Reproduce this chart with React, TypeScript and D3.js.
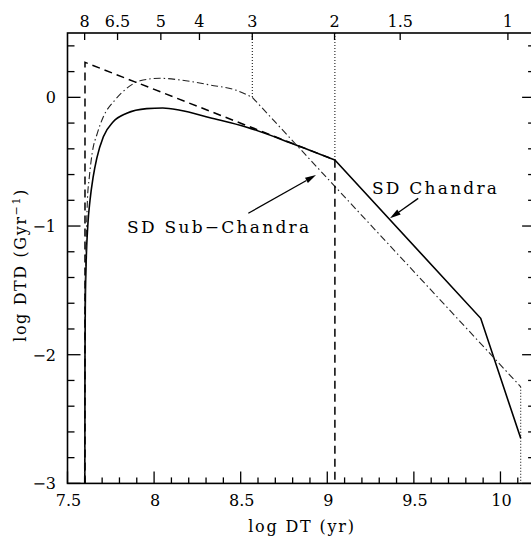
import React from "react";
import * as d3 from "d3";

// ---- data ----
const chandraCurve: [number, number][] = [
  [7.6, -3], [7.6005, -2.4], [7.601, -2.0], [7.603, -1.6], [7.607, -1.32], [7.617, -1.0],
  [7.63, -0.8], [7.648, -0.62], [7.669, -0.474], [7.707, -0.306], [7.764, -0.19],
  [7.842, -0.124], [7.957, -0.088], [8.05, -0.083], [8.15, -0.1], [8.323, -0.158],
  [8.535, -0.232], [8.785, -0.352], [9.044, -0.487],
];
const chandraTail: [number, number][] = [
  [9.044, -0.487], [9.886, -1.717], [10.117, -2.65],
];
const otherCurve: [number, number][] = [
  [7.598, -3], [7.599, -2.4], [7.6, -2.0], [7.602, -1.5], [7.607, -1.2], [7.615, -0.8],
  [7.626, -0.62], [7.643, -0.43], [7.672, -0.28], [7.707, -0.151], [7.774, -0.021],
  [7.842, 0.07], [7.919, 0.129], [8.034, 0.148], [8.15, 0.135], [8.323, 0.096],
  [8.47, 0.057], [8.567, 0.0],
];
const otherTail: [number, number][] = [
  [8.567, 0.0], [10.117, -2.249],
];
const subChandra: [number, number][] = [
  [7.601, -3], [7.601, 0.272], [9.044, -0.487], [9.044, -3],
];
const dottedGuides: [number, number, number][] = [
  // x, yTop, yBottom
  [8.567, 0.5, 0.0],
  [9.044, 0.5, -0.487],
  [10.117, -2.249, -3],
];
const massLabels = ["8", "6.5", "5", "4", "3", "2", "1.5", "1"];
const massLogT = [7.599, 7.789, 8.039, 8.262, 8.567, 9.042, 9.421, 10.043];
const xMajorTicks = [7.5, 8, 8.5, 9, 9.5, 10];
const xTickLabels = ["7.5", "8", "8.5", "9", "9.5", "10"];
const yMajorTicks = [-3, -2, -1, 0];
const yTickLabels = ["\u22123", "\u22122", "\u22121", "0"];

const W = 531;
const H = 541;
const FONT = "DejaVu Serif";

export default function App() {
  const x = d3.scaleLinear().domain([7.5, 10.2]).range([67.5, 535.1]);
  const y = d3.scaleLinear().domain([-3, 0.5]).range([483.4, 33]);

  const curve = d3
    .line<[number, number]>()
    .x((d) => x(d[0]))
    .y((d) => y(d[1]))
    .curve(d3.curveMonotoneX);
  const lin = d3
    .line<[number, number]>()
    .x((d) => x(d[0]))
    .y((d) => y(d[1]));

  const xMinor = d3.range(76, 103).map((v) => v / 10).filter((v) => Math.abs(v * 2 - Math.round(v * 2)) > 1e-6);
  const yMinor = d3.range(-14, 3).map((v) => v / 5).filter((v) => Math.abs(v - Math.round(v)) > 1e-6);

  const [x0, x1] = x.range();
  const [yb, yt] = y.range();

  const arrow = (sx: number, sy: number, tx: number, ty: number, key: string) => {
    const ang = Math.atan2(ty - sy, tx - sx);
    const L = 11, hw = 3;
    const bx = tx - L * Math.cos(ang), by = ty - L * Math.sin(ang);
    const px = -Math.sin(ang) * hw, py = Math.cos(ang) * hw;
    return (
      <g key={key}>
        <line x1={sx} y1={sy} x2={bx} y2={by} stroke="#000" strokeWidth={1.3} />
        <polygon points={`${tx},${ty} ${bx + px},${by + py} ${bx - px},${by - py}`} fill="#000" />
      </g>
    );
  };

  return (
    <svg width={W} height={H} style={{ position: "absolute", left: 0, top: 0, background: "#fff" }}
      fontFamily={FONT}>
      {/* lines */}
      <path d={curve(chandraCurve) || ""} fill="none" stroke="#000" strokeWidth={1.6} />
      <path d={lin(chandraTail) || ""} fill="none" stroke="#000" strokeWidth={1.6} />
      <path d={curve(otherCurve) || ""} fill="none" stroke="#222" strokeWidth={1.1} strokeDasharray="7 3 1.5 3" />
      <path d={lin(otherTail) || ""} fill="none" stroke="#222" strokeWidth={1.1} strokeDasharray="7 3 1.5 3" />
      <path d={lin(subChandra) || ""} fill="none" stroke="#000" strokeWidth={1.5} strokeDasharray="8 5" />
      {dottedGuides.map((g, i) => (
        <line key={"dg" + i} x1={x(g[0])} x2={x(g[0])} y1={y(g[1])} y2={y(g[2])}
          stroke="#000" strokeWidth={1} strokeDasharray="1 2" />
      ))}

      {/* frame */}
      <rect x={x0} y={yt} width={x1 - x0} height={yb - yt} fill="none" stroke="#000" strokeWidth={1.6} />

      {/* bottom ticks */}
      {xMajorTicks.map((v) => (
        <line key={"xM" + v} x1={x(v)} x2={x(v)} y1={yb} y2={yb - 12} stroke="#000" strokeWidth={1.3} />
      ))}
      {xMinor.map((v) => (
        <line key={"xm" + v} x1={x(v)} x2={x(v)} y1={yb} y2={yb - 6} stroke="#000" strokeWidth={1.3} />
      ))}
      {xMajorTicks.map((v, i) => (
        <text key={"xl" + v} x={x(v) + 1} y={506} fontSize={16} textAnchor="middle">{xTickLabels[i]}</text>
      ))}

      {/* top mass ticks */}
      {massLogT.map((v, i) => (
        <g key={"mt" + i}>
          <line x1={x(v)} x2={x(v)} y1={yt} y2={yt + 7} stroke="#000" strokeWidth={1.3} />
          <text x={x(v)} y={27} fontSize={16} textAnchor="middle">{massLabels[i]}</text>
        </g>
      ))}

      {/* left / right ticks */}
      {yMajorTicks.map((v) => (
        <g key={"yM" + v}>
          <line x1={x0} x2={x0 + 13} y1={y(v)} y2={y(v)} stroke="#000" strokeWidth={1.3} />
          <line x1={x1} x2={x1 - 13} y1={y(v)} y2={y(v)} stroke="#000" strokeWidth={1.3} />
        </g>
      ))}
      {yMinor.map((v) => (
        <g key={"ym" + v}>
          <line x1={x0} x2={x0 + 7} y1={y(v)} y2={y(v)} stroke="#000" strokeWidth={1.3} />
          <line x1={x1} x2={x1 - 7} y1={y(v)} y2={y(v)} stroke="#000" strokeWidth={1.3} />
        </g>
      ))}
      {yMajorTicks.map((v, i) => (
        <text key={"yl" + v} x={56} y={y(v) + 6} fontSize={16} textAnchor="end">{yTickLabels[i]}</text>
      ))}

      {/* axis titles */}
      <text x={302} y={532} fontSize={16} textAnchor="middle" letterSpacing={1.8}>log DT (yr)</text>
      <text transform={`translate(26,265) rotate(-90)`} fontSize={16} textAnchor="middle" letterSpacing={1.6}>
        log DTD (Gyr<tspan dy={-6} fontSize={11}>{"\u22121"}</tspan><tspan dy={6}>)</tspan>
      </text>

      {/* annotations */}
      <text x={x(7.844)} y={y(-1.054)} fontSize={17} textLength={182} lengthAdjust="spacing">SD Sub{"\u2212"}Chandra</text>
      {arrow(x(8.544), y(-0.901), x(8.935), y(-0.604), "a1")}
      <text x={x(9.258)} y={y(-0.751)} fontSize={17} textLength={125} lengthAdjust="spacing">SD Chandra</text>
      {arrow(x(9.525), y(-0.785), x(9.362), y(-0.94), "a2")}
    </svg>
  );
}
